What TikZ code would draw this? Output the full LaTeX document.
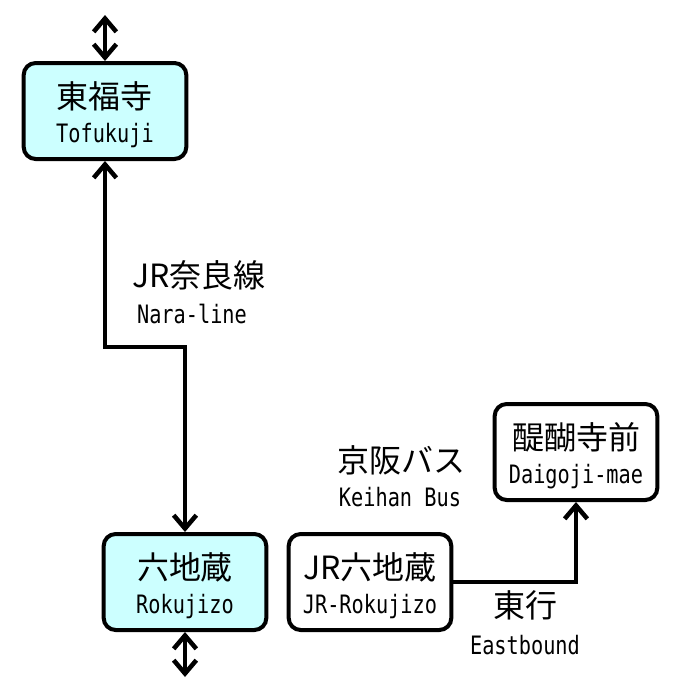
\documentclass[tikz,border=0pt]{standalone}
\usepackage{fontspec}
\newfontfamily\ja{Noto Sans CJK JP}
\newfontfamily\la[FakeStretch=0.8]{DejaVu Sans Mono}
\usetikzlibrary{positioning,arrows.meta}
\definecolor{stationfill}{HTML}{CCFFFF}
\newcommand{\jatext}{\ja\fontsize{24}{26}\selectfont}
\newcommand{\latext}{\la\fontsize{19}{20}\selectfont}
\newcommand{\stname}[2]{{\jatext\rule{0pt}{26pt}#1}\\[8pt]{\latext #2}}
\tikzset{
  station/.style={rectangle, rounded corners=9pt, draw, line width=3pt,
                  minimum width=122pt, minimum height=72pt, inner sep=0pt, align=center},
  jrstation/.style={station, fill=stationfill},
  barb/.tip={Straight Barb[length=10pt, width=17pt]},
  route/.style={line width=3.4pt, barb-barb},
  oneway/.style={line width=3.4pt, -barb},
  jplabel/.style={font=\jatext, inner sep=0pt},
  enlabel/.style={font=\latext, inner sep=0pt},
}

\begin{document}
\begin{tikzpicture}[x=0.75pt, y=-0.75pt]
  \useasboundingbox (0,0) rectangle (681,697);

  % stations
  \node[jrstation] (tofukuji) at (105,111) {\stname{東福寺}{Tofukuji}};
  \node[jrstation] (rokujizo) at (185,582) {\stname{六地蔵}{Rokujizo}};
  \node[station] (jrrokujizo) at (370,582) {\stname{JR六地蔵}{JR-Rokujizo}};
  \node[station] (daigoji) at (576,452) {\stname{醍醐寺前}{Daigoji-mae}};

  % line continues beyond
  \coordinate (north end) at (tofukuji.north |- 0,15);
  \coordinate (south end) at (rokujizo.south |- 0,677);
  \draw[route] (north end) -- (tofukuji.north);
  \draw[route] (rokujizo.south) -- (south end);

  % Nara line
  \draw[route] (tofukuji.south) -- ++(0,186) -| (rokujizo.north);
  \node[jplabel] (naraja) at (199,275) {JR奈良線};
  \node[enlabel] (naraen) at (192,314) {Nara-line};

  % Keihan bus
  \draw[oneway] (jrrokujizo.east) -| (daigoji.south);
  \node[jplabel] (busja) at (401,460) {京阪バス};
  \node[enlabel] (busen) at (400,497) {Keihan Bus};
  \node[jplabel] (eastja) at (525,605) {東行};
  \node[enlabel] (easten) at (525,645) {Eastbound};
\end{tikzpicture}
\end{document}
